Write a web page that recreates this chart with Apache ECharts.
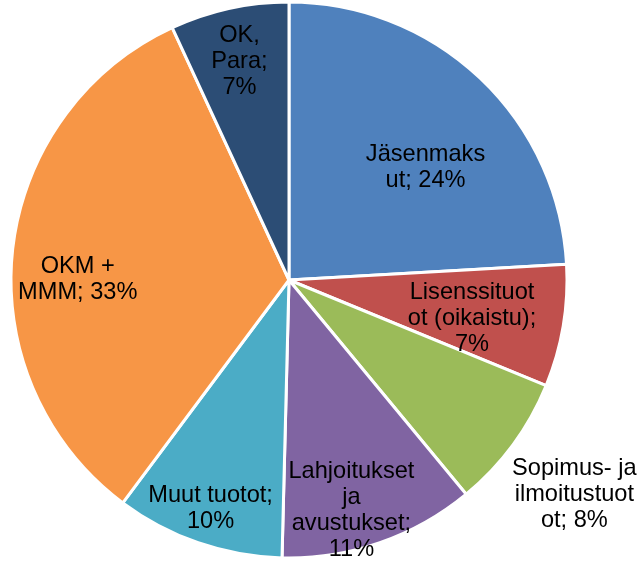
<!DOCTYPE html>
<html lang="fi">
<head>
    <meta charset="UTF-8">
    <title>Tuotot</title>
    <script type="text/javascript" src="https://cdn.jsdelivr.net/npm/echarts@6/dist/echarts.min.js"></script>
    <style>
        html, body { margin: 0; padding: 0; background: #fff; }
        #main { width: 641px; height: 561px; }
    </style>
</head>
<body>

<div id="main"></div>

<script type="text/javascript">
    // nimet ja osuudet (%)
    var names = ['Jäsenmaksut', 'Lisenssituotot (oikaistu)', 'Sopimus- ja ilmoitustuotot',
        'Lahjoitukset ja avustukset', 'Muut tuotot', 'OKM + MMM', 'OK, Para'];
    var values = [24.1, 7.1, 7.8, 11.4, 9.8, 32.9, 6.9];
    // tekstit rivitettynä kuten alkuperäisessä
    var labelTexts = ['Jäsenmaks\nut; ', 'Lisenssituot\not (oikaistu);\n', 'Sopimus- ja\nilmoitustuot\not; ',
        'Lahjoitukset\nja\navustukset;\n', 'Muut tuotot;\n', 'OKM +\nMMM; ', 'OK,\nPara;\n'];
    var colors = ['#4F81BD', '#C0504D', '#9BBB59', '#8064A2', '#4BACC6', '#F79646', '#2C4D75'];
    // siirrot oletuspaikasta (px)
    var labelShift = [[39, -9], [43, 15], [171, 130], [16, 96], [-32, 94], [-70, 14], [-19, -80]];

    var data = [];
    for (var i = 0; i < names.length; i++) {
        data.push({name: names[i], value: values[i], itemStyle: {color: colors[i]}});
    }

    var option = {
        animation: false,
        series: [{
            type: 'pie',
            center: [289, 280],
            radius: 278,
            startAngle: 90,
            clockwise: true,
            data: data,
            itemStyle: {
                borderColor: '#ffffff',
                borderWidth: 3
            },
            label: {
                show: true,
                position: 'inside',
                color: '#000',
                fontFamily: 'Liberation Sans, Arial, sans-serif',
                fontSize: 23.6,
                lineHeight: 26,
                align: 'center',
                formatter: function (p) {
                    return labelTexts[p.dataIndex] + Math.round(p.percent) + '%';
                }
            },
            labelLine: {show: false},
            labelLayout: function (p) {
                return {dx: labelShift[p.dataIndex][0], dy: labelShift[p.dataIndex][1]};
            }
        }]
    };

    var myChart = echarts.init(document.getElementById('main'));
    myChart.setOption(option);
</script>
</body>
</html>
